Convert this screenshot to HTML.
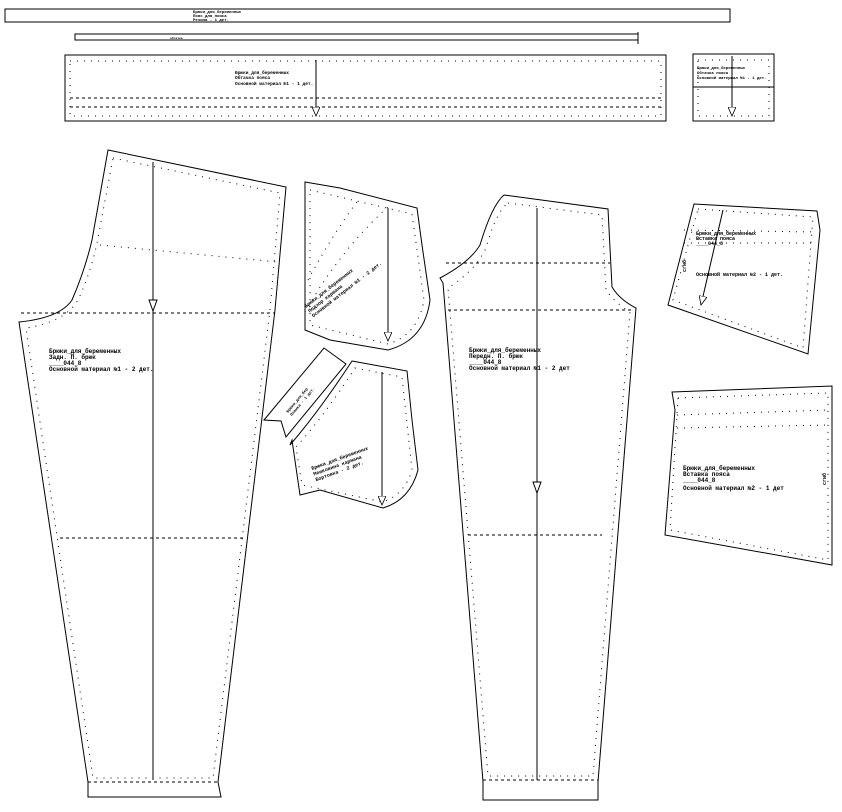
<!DOCTYPE html>
<html><head><meta charset="utf-8"><style>
html,body{margin:0;padding:0;background:#fff;}
svg{display:block;}
text{font-family:"Liberation Mono","DejaVu Sans Mono",monospace;font-size:6px;fill:#000;font-weight:bold;}
</style></head><body>
<svg width="842" height="812" viewBox="0 0 842 812" xmlns="http://www.w3.org/2000/svg">
<defs>
<marker id="ah" markerWidth="10" markerHeight="8" refX="9" refY="4" orient="auto" markerUnits="userSpaceOnUse">
<path d="M0,0 L9,4 L0,8 Z" fill="#fff" stroke="#000" stroke-width="0.8"/>
</marker>
</defs>
<g fill="none" stroke="#000" stroke-width="1">
<rect x="5" y="9" width="725" height="13"/>
<rect x="75" y="34" width="563" height="6"/>
<line x1="638" y1="32" x2="638" y2="44"/>
<rect x="65" y="55" width="601" height="66"/>
<rect x="693" y="54" width="81" height="67"/>
<line x1="693" y1="87" x2="774" y2="87"/>
<path d="M108,150 L286,187 L275,310 L218,782 L221,797 L88,797 L88,782 L19,322 Q60,318 72,300 Q85,270 92,240 Z"/>
<path d="M305,182 L340,188 L417,208 L422,245 L430,300 Q425,340 388,350 L330,340 L305,330 Z"/>
<path d="M264,420 L324,348 L346,364 L286,437 L281,421 Z"/>
<path d="M352,361 L407,371 L412,420 L418,470 Q410,500 383,508 L320,490 L300,495 L292,440 L290,445 Q320,410 352,361 Z"/>
<path d="M504,195 L608,209 L612,287 Q620,300 636,308 L598,782 L598,800 L483,800 L483,782 L443,283 L440,278 Q470,262 480,245 Q492,205 504,195 Z"/>
<path d="M694,204 L817,211 L820,230 L808,354 L668,305 Z"/>
<path d="M672,392 L832,386 L832,565 L665,535 L675,410 Z"/>
</g>
<g fill="none" stroke="#000" stroke-width="1" stroke-dasharray="1,6">
<rect x="70" y="61" width="591" height="55"/>
<rect x="698" y="60" width="71" height="56"/>
<path d="M113,158 L280,193 L270,310 L213,778 L93,778 L26,328 Q65,322 78,300 Q92,270 98,238 Z"/>
<path d="M310,190 L412,214 L424,300 Q418,335 388,344 L310,325 Z"/>
<path d="M305,312 Q340,250 390,205 M308,280 Q335,230 360,198"/>
<path d="M355,368 L402,377 L412,470 Q405,494 383,502 L302,485 L296,447 Q325,415 355,368 Z"/>
<path d="M508,203 L602,215 L606,290 Q614,302 630,312 L593,776 L488,776 L448,288 Q476,270 486,248 Q496,212 508,203 Z"/>
<path d="M698,209 L813,217 L803,348 L673,300 Z"/>
<path d="M678,398 L828,393 L828,560 L670,530 Z"/>
<line x1="100" y1="245" x2="278" y2="262"/>
<line x1="684" y1="230" x2="816" y2="232"/>
<line x1="684" y1="243" x2="816" y2="243"/>
<line x1="677" y1="415" x2="828" y2="410"/>
<line x1="677" y1="428" x2="828" y2="425"/>
</g>
<g fill="none" stroke="#000" stroke-width="1" stroke-dasharray="3,3">
<line x1="70" y1="98" x2="661" y2="98"/>
<line x1="70" y1="107" x2="661" y2="107"/>
<line x1="21" y1="313" x2="275" y2="313"/>
<line x1="60" y1="538" x2="245" y2="538"/>
<line x1="88" y1="782" x2="218" y2="782"/>
<line x1="446" y1="263" x2="610" y2="263"/>
<line x1="448" y1="310" x2="634" y2="310"/>
<line x1="468" y1="535" x2="602" y2="535"/>
<line x1="483" y1="780" x2="598" y2="780"/>
</g>
<g stroke="#000" stroke-width="1" fill="none">
<line x1="153" y1="162" x2="153" y2="780"/>
<path d="M149,300 L153,311 L157,300 Z" fill="#fff"/>
<line x1="537" y1="208" x2="537" y2="780"/>
<path d="M533,482 L537,493 L541,482 Z" fill="#fff"/>
<line x1="316" y1="60" x2="316" y2="116" marker-end="url(#ah)"/>
<line x1="732" y1="56" x2="732" y2="116" marker-end="url(#ah)"/>
<line x1="388" y1="208" x2="388" y2="341" marker-end="url(#ah)"/>
<line x1="382" y1="372" x2="382" y2="505" marker-end="url(#ah)"/>
<line x1="723" y1="210" x2="701" y2="305" marker-end="url(#ah)"/>
</g>
<text x="193" y="13" style="font-size:4px">Брюки_для_беременных</text>
<text x="193" y="17" style="font-size:4px">Пояс_для_пояса</text>
<text x="193" y="21" style="font-size:4px">Резина - 1 дет.</text>
<text x="170" y="39" style="font-size:3px">обтачка</text>
<text x="235" y="74" style="font-size:4.5px">Брюки_для_беременных</text>
<text x="235" y="79" style="font-size:4.5px">Обтачка пояса</text>
<text x="235" y="85" style="font-size:4.5px">Основной материал №1 - 1 дет.</text>
<text x="697" y="69" style="font-size:4px">Брюки_для_беременных</text>
<text x="697" y="74" style="font-size:4px">Обтачка пояса</text>
<text x="697" y="79" style="font-size:4px">Основной материал №1 - 1 дет.</text>
<text x="49" y="353">Брюки_для_беременных</text>
<text x="49" y="359">Задн. П. брюк</text>
<text x="49" y="365">____044_8</text>
<text x="49" y="371">Основной материал №1 - 2 дет.</text>
<text x="469" y="352">Брюки_для_беременных</text>
<text x="469" y="358">Передн. П. брюк</text>
<text x="469" y="364">____044_8</text>
<text x="469" y="370">Основной материал №1 - 2 дет</text>
<g transform="translate(306,308) rotate(-38)">
<text x="0" y="0" style="font-size:5px">Брюки_для_беременных</text>
<text x="0" y="6" style="font-size:5px">Подзор кармана</text>
<text x="0" y="12" style="font-size:5px">Основной материал №1 - 2 дет.</text>
</g>
<g transform="translate(312,470) rotate(-20)">
<text x="0" y="0" style="font-size:5px">Брюки_для_беременных</text>
<text x="0" y="6" style="font-size:5px">Мешковина кармана</text>
<text x="0" y="12" style="font-size:5px">Бортовка - 2 дет.</text>
</g>
<g transform="translate(288,413) rotate(-50)">
<text x="0" y="0" style="font-size:4px">Брюки_для_бер</text>
<text x="0" y="5" style="font-size:4px">Планка - 1 дет.</text>
</g>
<text x="696" y="235" style="font-size:5px">Брюки_для_беременных</text>
<text x="696" y="240" style="font-size:5px">Вставка пояса</text>
<text x="696" y="245" style="font-size:5px">____044_8</text>
<text x="696" y="276" style="font-size:5px">Основной материал №2 - 1 дет.</text>
<text x="683" y="470">Брюки_для_беременных</text>
<text x="683" y="476">Вставка пояса</text>
<text x="683" y="482">____044_8</text>
<text x="683" y="490">Основной материал №2 - 1 дет</text>
<text transform="translate(826,485) rotate(-90)" style="font-size:5px">сгиб</text>
<text transform="translate(686,272) rotate(-90)" style="font-size:5px">сгиб</text>
</svg>
</body></html>
